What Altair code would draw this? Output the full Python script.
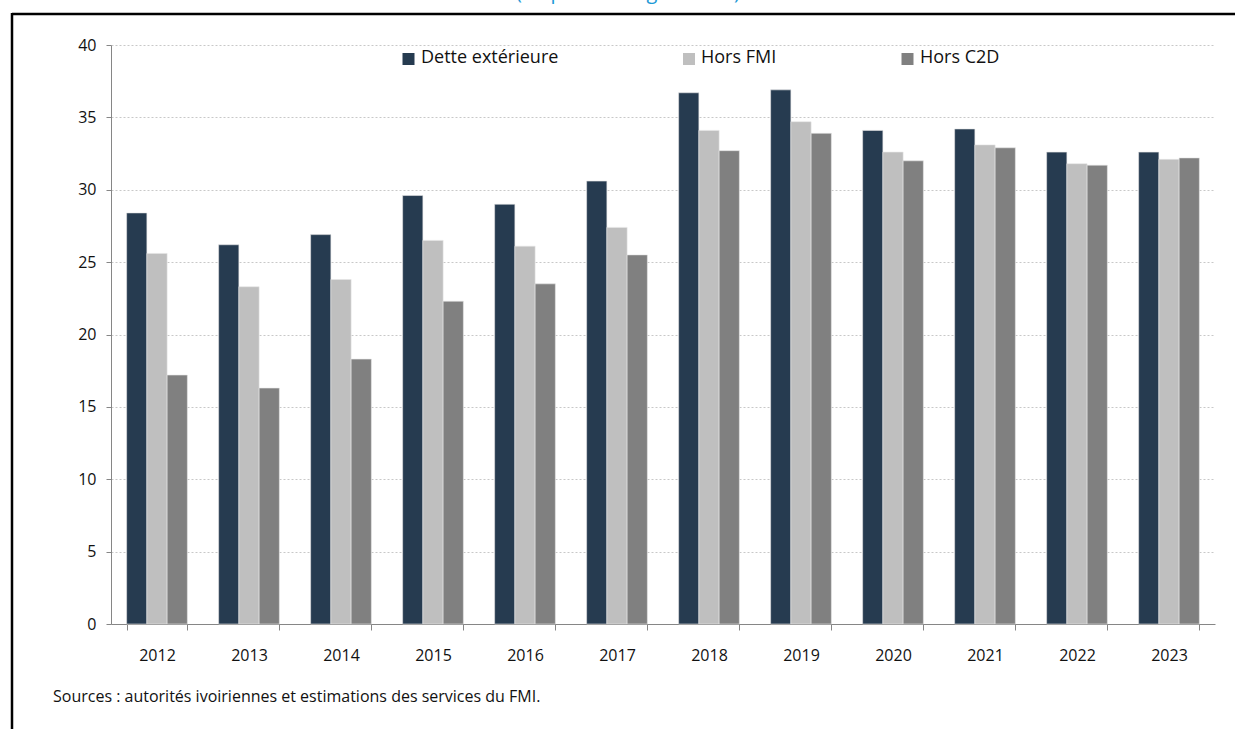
import altair as alt
import pandas as pd

YEARS = ["2012", "2013", "2014", "2015", "2016", "2017",
         "2018", "2019", "2020", "2021", "2022", "2023"]
SERIES = ["Dette extérieure", "Hors FMI", "Hors C2D"]
DETTE = [28.4, 26.2, 26.9, 29.6, 29.0, 30.6, 36.7, 36.9, 34.1, 34.2, 32.6, 32.6]
HORS_FMI = [25.6, 23.3, 23.8, 26.5, 26.1, 27.4, 34.1, 34.7, 32.6, 33.1, 31.8, 32.1]
HORS_C2D = [17.2, 16.3, 18.3, 22.3, 23.5, 25.5, 32.7, 33.9, 32.0, 32.9, 31.7, 32.2]
COLORS = ["#263B50", "#BFBFBF", "#808080"]
Y_TICKS = [0, 5, 10, 15, 20, 25, 30, 35, 40]
TITLE = "(en pourcentage du PIB)"
SOURCE = "Sources : autorités ivoiriennes et estimations des services du FMI."

# legend item positions (pixels, relative to plot area)
LEGEND_SQ_X = [297.5, 578, 796.5]
LEGEND_TX_X = [310, 590, 809]

FONT = "Open Sans"

rows = []
for s, vals in zip(SERIES, [DETTE, HORS_FMI, HORS_C2D]):
    for y, v in zip(YEARS, vals):
        rows.append({"annee": y, "serie": s, "valeur": v})
df = pd.DataFrame(rows)
one = pd.DataFrame({"k": [0]})

color_scale = alt.Scale(domain=SERIES, range=COLORS)

bars = alt.Chart(df).mark_bar(stroke="#E6E6E6", strokeWidth=0.6).encode(
    x=alt.X("annee:N", sort=YEARS,
            scale=alt.Scale(paddingInner=0.34, paddingOuter=0.17),
            axis=alt.Axis(title=None, labelAngle=0, tickBand="extent",
                          tickSize=6, labelPadding=17, domainColor="#868686",
                          tickColor="#868686", grid=False)),
    xOffset=alt.XOffset("serie:N", sort=SERIES,
                        scale=alt.Scale(paddingInner=0, paddingOuter=0)),
    y=alt.Y("valeur:Q", scale=alt.Scale(domain=[0, 40], nice=False),
            axis=alt.Axis(title=None, values=Y_TICKS, grid=True,
                          gridDash=[2, 2], gridColor="#C8C8C8",
                          tickSize=5, labelPadding=10,
                          domainColor="#868686", tickColor="#868686")),
    color=alt.Color("serie:N", scale=color_scale, legend=None),
)

layers = [bars]

for i, s in enumerate(SERIES):
    sq = alt.Chart(one).mark_square(size=144, opacity=1, color=COLORS[i]).encode(
        x=alt.value(LEGEND_SQ_X[i]), y=alt.value(14))
    tx = alt.Chart(one).mark_text(text=s, align="left", baseline="middle",
                                  font=FONT, fontSize=18, color="#111111").encode(
        x=alt.value(LEGEND_TX_X[i]), y=alt.value(13))
    layers += [sq, tx]

title_txt = alt.Chart(one).mark_text(text=TITLE, align="center", baseline="alphabetic",
                                     font=FONT, fontSize=20, color="#1E9AD6").encode(
    x=alt.value(517), y=alt.value(-46))
source_txt = alt.Chart(one).mark_text(text=SOURCE, align="left", baseline="middle",
                                      font=FONT, fontSize=16, color="#111111").encode(
    x=alt.value(-58), y=alt.value(652))
top_line = alt.Chart(one).mark_rule(color="#000000", strokeWidth=2.5).encode(
    x=alt.value(-99), x2=alt.value(1130), y=alt.value(-31))
left_line = alt.Chart(one).mark_rule(color="#000000", strokeWidth=2.5).encode(
    x=alt.value(-99), y=alt.value(-32), y2=alt.value(690))

layers += [title_txt, source_txt, top_line, left_line]

chart = alt.layer(*layers).properties(
    width=1104, height=579,
    padding={"left": 111, "top": 45, "right": 20, "bottom": 105},
    autosize=alt.AutoSizeParams(type="none"),
    background="white",
).configure_view(stroke=None).configure_axis(
    labelFont=FONT, labelFontSize=16, labelColor="#111111",
)

chart.save("out.html", embed_options={"renderer": "svg", "actions": False})
